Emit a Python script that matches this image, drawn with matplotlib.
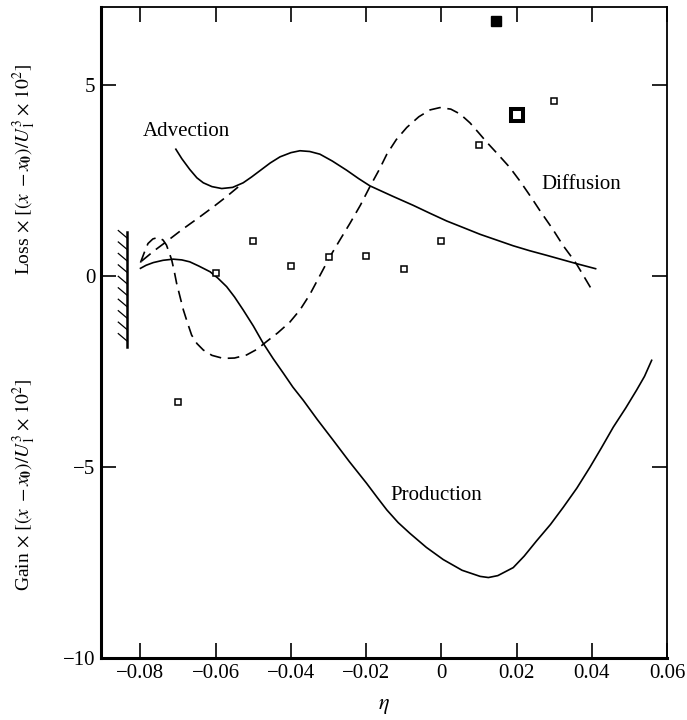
import numpy as np
import matplotlib
matplotlib.use("Agg")
import matplotlib.pyplot as plt

plt.rcParams["font.family"] = ["Liberation Serif", "DejaVu Serif"]
plt.rcParams["mathtext.fontset"] = "stix"
plt.rcParams["font.size"] = 15

# advection: solid branch, plus the dashed branch running down to the wall
adv_eta = [-0.0706, -0.0690, -0.0669, -0.0650, -0.0633, -0.0610, -0.0584, -0.0555, -0.0527,
           -0.0505, -0.0482, -0.0455, -0.0429, -0.0400, -0.0376, -0.0350, -0.0323, -0.0290,
           -0.0252, -0.0220, -0.0190, -0.0130, -0.0075, -0.0030, 0.0014, 0.0060, 0.0103,
           0.0150, 0.0191, 0.0235, 0.0280, 0.0320, 0.0360, 0.0410]
adv_val = [3.33, 3.08, 2.80, 2.58, 2.45, 2.35, 2.30, 2.33, 2.45,
           2.60, 2.77, 2.97, 3.13, 3.24, 3.29, 3.27, 3.20, 3.02,
           2.78, 2.56, 2.37, 2.10, 1.86, 1.65, 1.45, 1.27, 1.10,
           0.94, 0.80, 0.67, 0.55, 0.44, 0.33, 0.20]
adv_wall_eta = [-0.0797, -0.0765, -0.0731, -0.0690, -0.0642, -0.0605, -0.0571, -0.0527]
adv_wall_val = [0.40, 0.66, 0.91, 1.22, 1.56, 1.83, 2.09, 2.45]

# diffusion (dashed)
dif_eta = [-0.0800, -0.0790, -0.0780, -0.0767, -0.0753, -0.0740, -0.0731, -0.0723, -0.0717,
           -0.0710, -0.0704, -0.0695, -0.0686, -0.0675, -0.0664, -0.0650, -0.0633, -0.0610,
           -0.0580, -0.0550, -0.0518, -0.0490, -0.0465, -0.0435, -0.0403, -0.0376, -0.0350,
           -0.0323, -0.0296, -0.0270, -0.0243, -0.0215, -0.0190, -0.0165, -0.0145, -0.0120,
           -0.0092, -0.0060, -0.0030, -0.0004, 0.0025, 0.0050, 0.0076, 0.0100, 0.0120,
           0.0150, 0.0182, 0.0210, 0.0240, 0.0262, 0.0295, 0.0324, 0.0345, 0.0360,
           0.0380, 0.0401]
dif_val = [0.36, 0.62, 0.86, 0.98, 1.02, 0.95, 0.82, 0.60, 0.43,
           0.12, -0.18, -0.53, -0.88, -1.22, -1.54, -1.76, -1.93, -2.07,
           -2.15, -2.14, -2.06, -1.91, -1.71, -1.48, -1.20, -0.88, -0.48,
           0.02, 0.52, 0.95, 1.39, 1.87, 2.35, 2.80, 3.20, 3.58,
           3.90, 4.18, 4.36, 4.42, 4.38, 4.25, 4.02, 3.75, 3.52,
           3.20, 2.85, 2.48, 2.05, 1.72, 1.25, 0.80, 0.52, 0.31,
           -0.02, -0.37]

# production (solid)
prod_eta = [-0.0800, -0.0785, -0.0766, -0.0740, -0.0713, -0.0690, -0.0669, -0.0645, -0.0615,
            -0.0595, -0.0571, -0.0550, -0.0527, -0.0500, -0.0474, -0.0447, -0.0420, -0.0395,
            -0.0367, -0.0330, -0.0288, -0.0245, -0.0199, -0.0170, -0.0145, -0.0115, -0.0084,
            -0.0040, 0.0005, 0.0055, 0.0103, 0.0125, 0.0150, 0.0191, 0.0220, 0.0253,
            0.0290, 0.0324, 0.0360, 0.0395, 0.0425, 0.0457, 0.0490, 0.0519, 0.0540, 0.0559]
prod_val = [0.21, 0.29, 0.36, 0.42, 0.45, 0.43, 0.38, 0.27, 0.12,
            -0.04, -0.27, -0.54, -0.88, -1.30, -1.75, -2.16, -2.54, -2.90,
            -3.25, -3.75, -4.29, -4.85, -5.42, -5.80, -6.12, -6.45, -6.73,
            -7.10, -7.42, -7.70, -7.86, -7.89, -7.84, -7.63, -7.33, -6.93,
            -6.50, -6.05, -5.55, -5.00, -4.50, -3.95, -3.45, -2.98, -2.62, -2.20]

# measured points
pts_eta = [-0.07, -0.06, -0.05, -0.04, -0.03, -0.02, -0.01, 0.0, 0.01, 0.03]
pts_val = [-3.28, 0.10, 0.93, 0.27, 0.50, 0.52, 0.19, 0.93, 3.45, 4.60]
big_eta, big_val = [0.02], [4.22]
solid_eta, solid_val = [0.0145], [6.70]

wall_eta = -0.0835
wall_y = (-1.85, 1.15)
hatch_y = [1.0, 0.7, 0.4, 0.1, -0.2, -0.5, -0.8, -1.1, -1.4, -1.7]

xticks = [-0.08, -0.06, -0.04, -0.02, 0.0, 0.02, 0.04, 0.06]
xticklabels = ["\u22120.08", "\u22120.06", "\u22120.04", "\u22120.02", "0", "0.02", "0.04", "0.06"]
yticks = [-10, -5, 0, 5]
yticklabels = ["\u221210", "\u22125", "0", "5"]

fig = plt.figure(figsize=(6.87, 7.2), dpi=100)
ax = fig.add_axes([0.147, 0.086, 0.824, 0.904])

lw = 1.2
style = dict(color="k", lw=lw, solid_joinstyle="round", dash_joinstyle="round")
ax.plot(adv_eta, adv_val, **style)
ax.plot(adv_wall_eta, adv_wall_val, dashes=(7, 4), **style)
ax.plot(dif_eta, dif_val, dashes=(7, 4), **style)
ax.plot(prod_eta, prod_val, **style)

ax.plot(pts_eta, pts_val, ls="none", marker="s", ms=4.2, mfc="white", mec="k", mew=1.1)
ax.plot(big_eta, big_val, ls="none", marker="s", ms=8, mfc="white", mec="k", mew=2.9)
ax.plot(solid_eta, solid_val, ls="none", marker="s", ms=6.5, mfc="k", mec="k")

# wall with hatching
ax.plot([wall_eta, wall_eta], wall_y, color="k", lw=1.8)
for hy in hatch_y:
    ax.plot([wall_eta - 0.0024, wall_eta], [hy + 0.2, hy], color="k", lw=0.9)

ax.text(-0.0794, 3.8, "Advection", ha="left", va="center")
ax.text(0.0265, 2.4, "Diffusion", ha="left", va="center")
ax.text(-0.0135, -5.75, "Production", ha="left", va="center")

ax.set_xlim(-0.0905, 0.06)
ax.set_ylim(-10, 7.05)
ax.set_xticks(xticks)
ax.set_xticklabels(xticklabels)
ax.set_yticks(yticks)
ax.set_yticklabels(yticklabels)
ax.tick_params(direction="in", length=11, width=1.2, top=True, right=True, pad=4, labelsize=15)
for side in ["left", "bottom"]:
    ax.spines[side].set_linewidth(2.2)
for side in ["top", "right"]:
    ax.spines[side].set_linewidth(1.3)

ax.set_xlabel(r"$\eta$", fontsize=16, labelpad=10)

fig.text(0.036, 0.765, r"Loss$\,\times\,[(x\;-x_\mathbf{0})/U_1^3\times\,10^2]$",
         rotation=90, ha="center", va="center", fontsize=14)
fig.text(0.036, 0.326, r"Gain$\,\times\,[(x\;-x_\mathbf{0})/U_1^3\times\,10^2]$",
         rotation=90, ha="center", va="center", fontsize=14)

fig.savefig("out.png", dpi=100)
